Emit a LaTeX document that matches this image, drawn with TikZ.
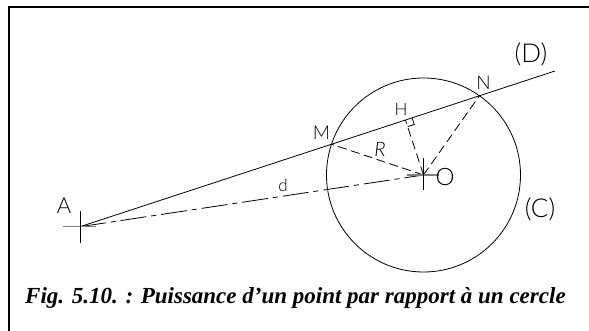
\documentclass[tikz,border=0pt]{standalone}
\usepackage{fontspec}
\setmainfont{Lato Light}
\newfontfamily\capfont{Liberation Serif}
\usetikzlibrary{calc}
\begin{document}
\begin{tikzpicture}[x=1pt,y=-1pt,
  geom/.style={line width=0.8pt,black},
  dsh/.style={line width=0.8pt,dash pattern=on 9pt off 4.5pt},
  dashdot/.style={line width=0.8pt,dash pattern=on 26pt off 5pt on 5pt off 5pt},
  crossv/.style={line width=0.8pt},
  crossh/.style={line width=1.3pt,gray},
  lbl/.style={inner sep=0pt,font=\fontsize{19}{19}\selectfont},
  biglbl/.style={inner sep=0pt,font=\fontsize{26}{26}\selectfont},
  frame/.style={line width=2pt}]
\useasboundingbox (0,0) rectangle (589,331);
% frame (top and left sides)
\draw[frame] (8.5,331) -- (8.5,7) -- (589,7);
% points
\coordinate (A) at (80,226.7);
\coordinate (O) at (423.5,175);
\coordinate (E) at (555,71);
\coordinate (M) at (331.5,144.2);
\coordinate (N) at (479.4,95.8);
\coordinate (H) at ($(A)!(O)!(E)$);
% circle
\draw[geom] (O) circle[radius=97];
% line D
\draw[geom] (A) -- (E);
% dashed segments
\draw[dsh] (O) -- (M);
\draw[dsh] (O) -- (N);
\draw[dsh] (O) -- (H);
\draw[dashdot] (A) -- (O);
% right angle mark
\coordinate (H1) at ($(H)!7pt!(E)$);
\coordinate (H2) at ($(H)!7pt!(O)$);
\draw[line width=0.8pt] (H1) -- ($(H1)+(H2)-(H)$) -- (H2);
% crosses
\draw[crossh] ($(A)+(-17,0)$) -- ($(A)+(16,0)$);
\draw[crossv] ($(A)+(0,-16)$) -- ($(A)+(0,16)$);
\draw[crossh] ($(O)+(-17,0)$) -- ($(O)+(15,0)$);
\draw[crossv] ($(O)+(0,-17)$) -- ($(O)+(0,15)$);
% labels
\node[lbl,font=\fontsize{22}{22}\selectfont] (lA) at (64,205.5) {A};
\node[lbl] (lM) at (321.5,132.5) {M};
\node[lbl,font=\fontsize{17}{17}\selectfont] (lH) at (401,109) {H};
\node[lbl] (lN) at (483.5,82.7) {N};
\node[lbl,font=\fontsize{20}{20}\selectfont\itshape] (lR) at (380,149.7) {R};
\node[lbl,font=\fontsize{24}{24}\selectfont] (lO) at (445,177) {O};
\node[lbl,font=\fontsize{17}{17}\selectfont] (ld) at (283,185) {d};
\node[biglbl] (lD) at (531,54) {(D)};
\node[biglbl] (lC) at (540,209.7) {(C)};
% caption
\node[inner sep=0pt,anchor=base west,font=\capfont\bfseries\itshape\fontsize{23}{23}\selectfont] (cap) at (25,303) {Fig. 5.10. : Puissance d’un point par rapport à un cercle};
\end{tikzpicture}
\end{document}
